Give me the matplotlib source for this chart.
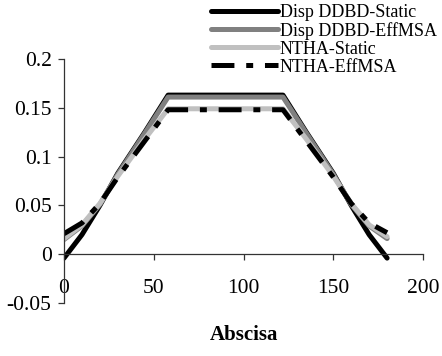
import matplotlib
matplotlib.use("Agg")
import matplotlib.pyplot as plt
from matplotlib.ticker import FixedLocator, FixedFormatter

plt.rcParams['font.family'] = ['Liberation Serif', 'DejaVu Serif']
plt.rcParams['lines.scale_dashes'] = False

# Data
abscisa = [0, 10, 20, 30, 45, 58, 122, 135, 150, 160, 170, 180]
disp_ddbd_static = [-0.004, 0.020, 0.050, 0.083, 0.125, 0.163,
                    0.163, 0.125, 0.083, 0.050, 0.020, -0.004]
disp_ddbd_effmsa = [0.015, 0.029, 0.051, 0.082, 0.124, 0.161,
                    0.161, 0.124, 0.082, 0.051, 0.029, 0.016]
ntha_static = [0.016, 0.030, 0.052, 0.080, 0.118, 0.149,
               0.149, 0.118, 0.080, 0.052, 0.030, 0.018]
ntha_effmsa = [0.021, 0.032, 0.052, 0.079, 0.116, 0.148,
               0.148, 0.116, 0.079, 0.052, 0.032, 0.022]

labels = ['Disp DDBD-Static', 'Disp DDBD-EffMSA', 'NTHA-Static', 'NTHA-EffMSA']

x_ticks = [0, 50, 100, 150, 200]
x_tick_labels = ['0', '50', '100', '150', '200']
y_ticks = [-0.05, 0, 0.05, 0.1, 0.15, 0.2]
y_tick_labels = ['-0.05', '0', '0.05', '0.1', '0.15', '0.2']

W, H = 442, 356
fig = plt.figure(figsize=(W / 100, H / 100), dpi=100)
ax = fig.add_axes([64 / W, 1 - 303 / H, (423 - 64) / W, (303 - 59) / H])

lw = 3.6
l1, = ax.plot(abscisa, disp_ddbd_static, color='black', lw=lw,
              solid_joinstyle='round', solid_capstyle='round', label=labels[0])
l2, = ax.plot(abscisa, disp_ddbd_effmsa, color='#808080', lw=lw,
              solid_joinstyle='round', solid_capstyle='round', label=labels[1])
l3, = ax.plot(abscisa, ntha_static, color='#c0c0c0', lw=lw,
              solid_joinstyle='round', solid_capstyle='round', label=labels[2])
l4, = ax.plot(abscisa, ntha_effmsa, color='black', lw=lw,
              dashes=(16.5, 8.5, 5, 8.5), dash_capstyle='butt', label=labels[3])

ax.set_xlim(0, 200)
ax.set_ylim(-0.05, 0.2)

for s in ('top', 'right'):
    ax.spines[s].set_visible(False)
ax.spines['bottom'].set_position(('data', 0))
for s in ('left', 'bottom'):
    ax.spines[s].set_linewidth(0.9)
    ax.spines[s].set_color('#333333')

ax.xaxis.set_major_locator(FixedLocator(x_ticks))
ax.xaxis.set_major_formatter(FixedFormatter(x_tick_labels))
ax.yaxis.set_major_locator(FixedLocator(y_ticks))
ax.yaxis.set_major_formatter(FixedFormatter(y_tick_labels))
ax.tick_params(axis='x', direction='out', length=4.5, width=0.9, pad=13,
               labelsize=15.5, color='#333333')
ax.tick_params(axis='y', direction='out', length=4, width=0.9, pad=5,
               labelsize=15.5, color='#333333')

fig.text(243.5 / W, 1 - 335 / H, 'Abscisa', ha='center', va='center',
         fontsize=15, fontweight='bold')

fig.legend(handles=[l1, l2, l3, l4], loc='upper left',
           bbox_to_anchor=(211 / W, 1 - 4 / H), frameon=False,
           fontsize=13, handlelength=3.7, handletextpad=0.1,
           labelspacing=0.05, borderpad=0, borderaxespad=0)

fig.savefig('out.png', dpi=100)
